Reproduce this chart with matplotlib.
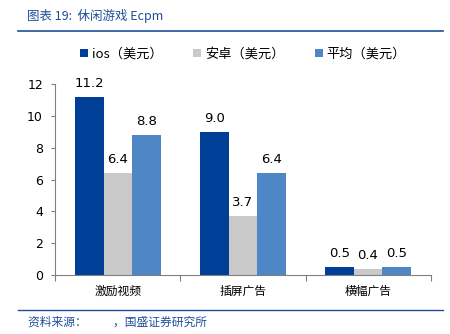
import numpy as np
import matplotlib.pyplot as plt

plt.rcParams['font.family'] = ['Noto Sans CJK SC', 'DejaVu Sans']

# data
categories = ['激励视频', '插屏广告', '横幅广告']
series_names = ['ios（美元）', '安卓（美元）', '平均（美元）']
ios_vals = [11.2, 9.0, 0.5]
android_vals = [6.4, 3.7, 0.4]
avg_vals = [8.8, 6.4, 0.5]
colors = ['#003F98', '#C9C9C9', '#4F86C6']

fig = plt.figure(figsize=(4.5, 3.34), dpi=100)
ax = fig.add_axes([0.1233, 0.1766, 0.8334, 0.5719])

x = np.arange(len(categories))
w = 0.23
all_vals = [ios_vals, android_vals, avg_vals]
for i, vals in enumerate(all_vals):
    bars = ax.bar(x + (i - 1) * w, vals, w, color=colors[i], label=series_names[i])
    for b, v in zip(bars, vals):
        ax.annotate('%.1f' % v, (b.get_x() + b.get_width() / 2, v),
                    xytext=(0, 5), textcoords='offset points',
                    ha='center', va='bottom', fontsize=9.5, family='DejaVu Sans')

ax.set_xlim(-0.5, 2.5)
ax.set_ylim(0, 12)
ax.set_yticks(range(0, 13, 2))
ax.tick_params(axis='y', labelsize=9, length=3, color='#808080', pad=6)
for lab in ax.get_yticklabels():
    lab.set_family('DejaVu Sans')
ax.set_xticks([-0.5, 0.5, 1.5, 2.5], minor=False)
ax.set_xticklabels([])
ax.set_xticks(x, minor=True)
ax.set_xticklabels(categories, minor=True, fontsize=8.5)
ax.tick_params(axis='x', which='major', length=4, color='#808080')
ax.tick_params(axis='x', which='minor', length=0, pad=7)
for s in ['top', 'right']:
    ax.spines[s].set_visible(False)
for s in ['left', 'bottom']:
    ax.spines[s].set_color('#808080')
    ax.spines[s].set_linewidth(0.8)

ax.legend(loc='lower center', bbox_to_anchor=(0.5, 1.06), ncol=3, frameon=False,
          fontsize=9.5, handlelength=0.6, handleheight=0.6, handletextpad=0.3,
          columnspacing=2.3)

# title and footer
fig.text(27 / 450, 1 - 16 / 334, '图表 19:  休闲游戏 Ecpm', color='#1F4E9A',
         fontsize=9, style='italic', va='center', ha='left')
fig.add_artist(plt.Line2D([18 / 450, 443 / 450], [1 - 31 / 334, 1 - 31 / 334],
                          color='#1F4E9A', lw=1.2))
fig.add_artist(plt.Line2D([18 / 450, 443 / 450], [1 - 310 / 334, 1 - 310 / 334],
                          color='#1F4E9A', lw=1.0))
fig.text(28 / 450, 1 - 322 / 334, '资料来源：          ，国盛证券研究所', color='#1F4E9A',
         fontsize=8.5, style='italic', va='center', ha='left')

fig.savefig('out.png', dpi=100)
